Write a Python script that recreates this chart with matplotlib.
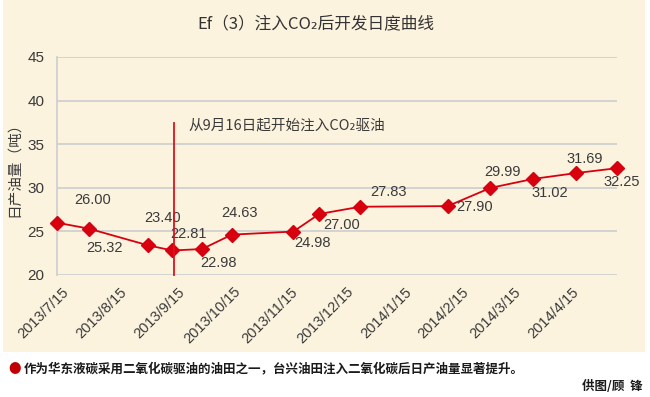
import datetime as dt
import matplotlib
matplotlib.use("Agg")
import matplotlib.pyplot as plt
import matplotlib.dates as mdates
import matplotlib.transforms as mtransforms
from matplotlib.patches import Rectangle

plt.rcParams['font.family'] = ['Liberation Sans', 'Noto Sans CJK SC', 'DejaVu Sans']
CJK = ['Noto Sans CJK SC', 'DejaVu Sans']

# data
dates = ["2013-07-15", "2013-08-01", "2013-09-02", "2013-09-15", "2013-10-01",
         "2013-10-17", "2013-11-19", "2013-12-03", "2013-12-25", "2014-02-10",
         "2014-03-05", "2014-03-28", "2014-04-20", "2014-05-12"]
output = [26.00, 25.32, 23.40, 22.81, 22.98, 24.63, 24.98, 27.00, 27.83, 27.90,
          29.99, 31.02, 31.69, 32.25]
# label offsets in pixels (dx, dy)
label_offsets = [(36, 23), (16, -19), (14, 27), (16, 16), (16, -14), (8, 22),
                 (19, -11), (22, -11), (28, 15), (27, -1), (12, 16), (17, -14),
                 (9, 14), (5, -14)]
tick_dates = ["2013-07-15", "2013-08-15", "2013-09-15", "2013-10-15", "2013-11-15",
              "2013-12-15", "2014-01-15", "2014-02-15", "2014-03-15", "2014-04-15"]
tick_labels = ["2013/7/15", "2013/8/15", "2013/9/15", "2013/10/15", "2013/11/15",
               "2013/12/15", "2014/1/15", "2014/2/15", "2014/3/15", "2014/4/15"]
injection_date = "2013-09-16"

x = [dt.datetime.strptime(d, "%Y-%m-%d") for d in dates]
tx = [dt.datetime.strptime(d, "%Y-%m-%d") for d in tick_dates]

W, H = 650, 397
fig = plt.figure(figsize=(W / 100, H / 100), dpi=100)
fig.patch.set_facecolor('white')
bg = Rectangle((3 / W, (H - 352) / H), 642 / W, 352 / H,
               transform=fig.transFigure, facecolor='#FCF3DF',
               edgecolor='none', zorder=-10)
fig.patches.append(bg)

ax = fig.add_axes([57 / W, (H - 275) / H, 560 / W, 218 / H])
ax.set_facecolor('none')
ax.set_zorder(1)

red = '#D7000F'
ax.plot(x, output, color=red, lw=1.3, marker='D', ms=7, mfc=red, mec=red,
        zorder=3, clip_on=False)
for xi, yi, (dx, dy) in zip(x, output, label_offsets):
    ax.annotate(f"{yi:.2f}", (mdates.date2num(xi), yi), xytext=(dx, dy),
                textcoords='offset pixels', ha='center', va='center',
                fontsize=10.5, color='#3a3a3a')

inj = mdates.date2num(dt.datetime.strptime(injection_date, "%Y-%m-%d"))
ax.plot([inj, inj], [20, 37.4], color='#E0101A', lw=1.3, zorder=4, clip_on=False)
ax.annotate("从9月16日起开始注入CO₂驱油", (inj, 37.4), xytext=(14, -2),
            textcoords='offset pixels', family=CJK, fontsize=10.5,
            color='#3a3a3a', ha='left', va='center')

ax.set_xlim(mdates.date2num(x[0]), mdates.date2num(x[-1]))
ax.set_ylim(20, 45)
ax.set_yticks([20, 25, 30, 35, 40, 45])
ax.yaxis.grid(True, color='#CBCDCF', lw=1.2)
ax.set_axisbelow(True)
for s in ['top', 'right', 'bottom']:
    ax.spines[s].set_visible(False)
ax.spines['left'].set_color('#CBCDCF')
ax.spines['left'].set_linewidth(1.2)
ax.tick_params(axis='y', length=0, pad=9, labelsize=11, labelcolor='#3a3a3a')
ax.set_xticks([mdates.date2num(t) for t in tx])
ax.set_xticklabels(tick_labels, rotation=45, ha='right', rotation_mode='anchor')
ax.tick_params(axis='x', length=0, pad=7, labelsize=10.5, labelcolor='#3a3a3a')
shift = mtransforms.ScaledTranslation(5 / 100, 0, fig.dpi_scale_trans)
for lbl in ax.get_xticklabels():
    lbl.set_transform(lbl.get_transform() + shift)

fig.text(14 / W, 1 - 166 / H, "日产油量（吨）", family=CJK, fontsize=10.5,
         color='#3a3a3a', rotation=90, ha='center', va='center')

fig.text(316 / W, 1 - 24 / H, "Ef（3）注入CO₂后开发日度曲线", family=CJK,
         fontsize=12, color='#333333', ha='center', va='center')

fig.text(8 / W, 1 - 369 / H, "●", family=CJK, fontsize=9, color='#C00000',
         ha='left', va='center')
fig.text(24 / W, 1 - 369 / H, "作为华东液碳采用二氧化碳驱油的油田之一，台兴油田注入二氧化碳后日产油量显著提升。",
         family=CJK, fontsize=9, fontweight='bold', color='#1a1a1a', ha='left', va='center')
fig.text(643 / W, 1 - 386 / H, "供图/顾  锋", family=CJK, fontsize=9,
         fontweight='bold', color='#1a1a1a', ha='right', va='center')

fig.savefig("out.png", dpi=100)
